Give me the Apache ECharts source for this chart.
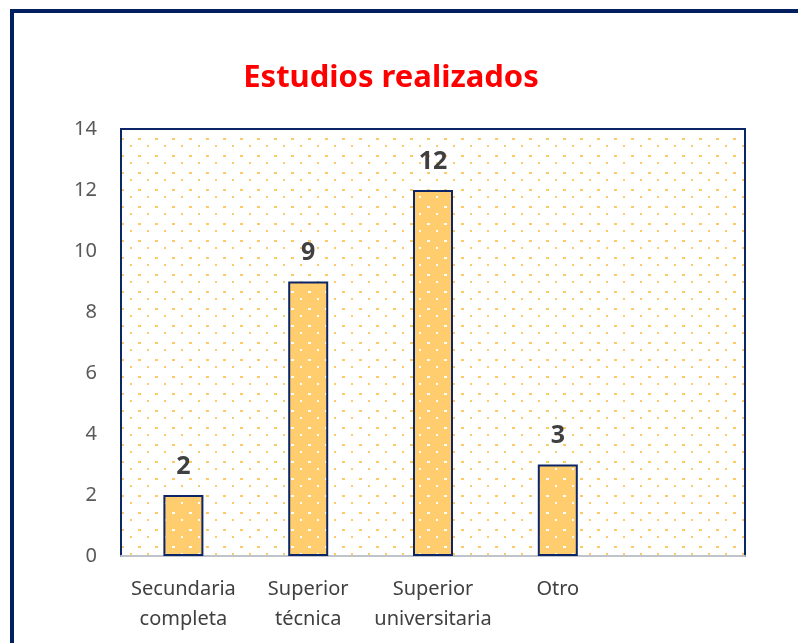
<!DOCTYPE html>
<html>
<head>
<meta charset="utf-8">
<script src="https://cdn.jsdelivr.net/npm/echarts@6/dist/echarts.min.js"></script>
<style>
  html, body { margin: 0; padding: 0; background: #fff; }
  #chart { width: 798px; height: 643px; }
</style>
</head>
<body>
<div id="chart"></div>
<script>
// data
const categories = ['Secundaria\ncompleta', 'Superior\ntécnica', 'Superior\nuniversitaria', 'Otro', ''];
const values = [2, 9, 12, 3, null];
const yTicks = [0, 2, 4, 6, 8, 10, 12, 14];

const navy = '#0B2566';
const barFill = '#FFCC6E';

// dotted pattern like Excel "5%" fill
function dotPattern(bg, dot) {
  const c = document.createElement('canvas');
  c.width = 17; c.height = 17;
  const ctx = c.getContext('2d');
  if (bg) { ctx.fillStyle = bg; ctx.fillRect(0, 0, 17, 17); }
  ctx.fillStyle = dot;
  ctx.fillRect(2, 2, 3, 2);
  ctx.fillRect(11, 9, 2, 2);
  return c;
}

const chartInstance = echarts.init(document.getElementById('chart'));
const option = {
  animation: false,
  title: {
    text: 'Estudios realizados',
    left: 386,
    textAlign: 'center',
    top: 58,
    textStyle: {
      color: '#FF0000',
      fontSize: 31,
      fontWeight: 'bold',
      fontFamily: 'Noto Sans'
    }
  },
  graphic: [{
    type: 'rect',
    shape: { x: 12, y: 11, width: 820, height: 700 },
    style: { fill: 'none', stroke: '#002060', lineWidth: 4 },
    silent: true
  }],
  grid: {
    left: 121,
    right: 53,
    top: 129,
    bottom: 87,
    show: true,
    backgroundColor: { image: dotPattern(null, '#FFC966'), repeat: 'repeat' },
    borderColor: navy,
    borderWidth: 2
  },
  xAxis: {
    type: 'category',
    data: categories,
    axisTick: { show: false },
    axisLine: { lineStyle: { color: '#BFC3CC', width: 2 } },
    axisLabel: {
      interval: 0,
      margin: 18,
      color: '#404040',
      fontSize: 20,
      lineHeight: 30,
      fontFamily: 'Noto Sans'
    }
  },
  yAxis: {
    type: 'value',
    min: 0,
    max: 14,
    interval: 2,
    splitLine: { show: false },
    axisLine: { show: false },
    axisTick: { show: false },
    axisLabel: {
      margin: 24,
      color: '#595959',
      fontSize: 20,
      fontFamily: 'Noto Sans',
      formatter: v => yTicks.includes(v) ? String(v) : ''
    }
  },
  series: [{
    type: 'bar',
    data: values,
    barWidth: 40,
    itemStyle: {
      color: { image: dotPattern(barFill, '#FFFFFF'), repeat: 'repeat' },
      borderColor: navy,
      borderWidth: 2
    },
    label: {
      show: true,
      position: 'top',
      distance: 16,
      color: '#404040',
      fontSize: 25,
      fontWeight: 'bold',
      fontFamily: 'Noto Sans'
    }
  }]
};
chartInstance.setOption(option);
</script>
</body>
</html>
